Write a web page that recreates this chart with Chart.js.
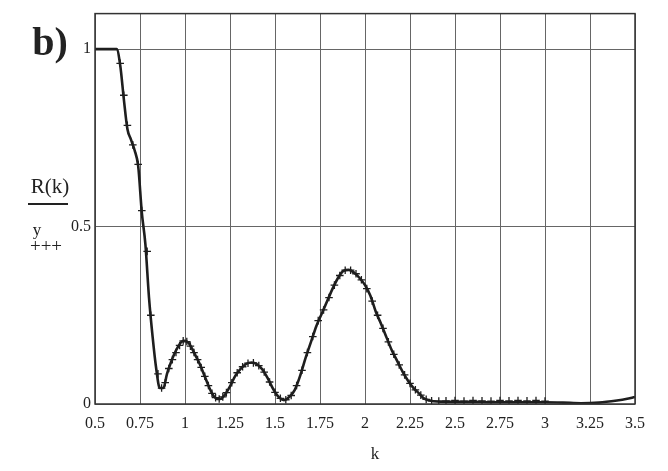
<!DOCTYPE html>
<html>
<head>
<meta charset="utf-8">
<script src="https://cdn.jsdelivr.net/npm/chart.js@4.4.1/dist/chart.umd.min.js"></script>
<style>
  html, body { margin: 0; padding: 0; background: #fff; }
  #myChart { display: block; }
</style>
</head>
<body>
<canvas id="myChart" width="668" height="471"></canvas>
<script>
// R(k) curve
const kLine = [0.5, 0.55, 0.6, 0.62, 0.64, 0.66, 0.68, 0.7, 0.72, 0.74, 0.76, 0.78, 0.8, 0.82, 0.84, 0.86, 0.88, 0.9, 0.92, 0.94, 0.96, 0.98, 1.0, 1.02, 1.04, 1.06, 1.08, 1.1, 1.12, 1.14, 1.16, 1.18, 1.2, 1.22, 1.25, 1.28, 1.31, 1.34, 1.37, 1.4, 1.43, 1.46, 1.49, 1.52, 1.55, 1.58, 1.61, 1.64, 1.67, 1.7, 1.73, 1.76, 1.79, 1.82, 1.85, 1.88, 1.91, 1.94, 1.97, 2.0, 2.03, 2.06, 2.09, 2.12, 2.15, 2.18, 2.21, 2.24, 2.27, 2.3, 2.33, 2.36, 2.4, 2.5, 2.6, 2.7, 2.8, 2.9, 3.0, 3.1, 3.2, 3.3, 3.4, 3.45, 3.5];
const rLine = [1, 1, 1, 1, 0.955, 0.86, 0.775, 0.745, 0.715, 0.67, 0.54, 0.45, 0.3, 0.19, 0.1, 0.045, 0.045, 0.085, 0.115, 0.14, 0.16, 0.175, 0.178, 0.172, 0.155, 0.135, 0.115, 0.09, 0.065, 0.04, 0.022, 0.014, 0.015, 0.025, 0.05, 0.08, 0.1, 0.113, 0.117, 0.112, 0.097, 0.072, 0.042, 0.02, 0.011, 0.02, 0.04, 0.08, 0.13, 0.175, 0.22, 0.255, 0.29, 0.325, 0.355, 0.375, 0.378, 0.37, 0.355, 0.335, 0.305, 0.26, 0.225, 0.187, 0.15, 0.12, 0.09, 0.065, 0.045, 0.03, 0.015, 0.01, 0.007, 0.006, 0.006, 0.005, 0.005, 0.005, 0.005, 0.004, 0.002, 0.004, 0.01, 0.014, 0.02];

// y data (+++)
const kCross = [0.64, 0.66, 0.68, 0.71, 0.74, 0.76, 0.79, 0.81, 0.85, 0.87, 0.89, 0.91, 0.93, 0.95, 0.97, 0.99, 1.01, 1.03, 1.05, 1.07, 1.09, 1.11, 1.13, 1.15, 1.17, 1.19, 1.21, 1.23, 1.26, 1.29, 1.32, 1.35, 1.38, 1.41, 1.44, 1.47, 1.5, 1.53, 1.56, 1.59, 1.62, 1.65, 1.68, 1.71, 1.74, 1.77, 1.8, 1.83, 1.86, 1.89, 1.92, 1.95, 1.98, 2.01, 2.04, 2.07, 2.1, 2.13, 2.16, 2.19, 2.22, 2.25, 2.28, 2.31, 2.34, 2.37, 2.41, 2.45, 2.5, 2.55, 2.6, 2.65, 2.7, 2.75, 2.8, 2.85, 2.9, 2.95, 3.0];
const yCross = [0.96, 0.87, 0.785, 0.73, 0.675, 0.545, 0.43, 0.25, 0.085, 0.045, 0.06, 0.1, 0.125, 0.145, 0.165, 0.178, 0.176, 0.163, 0.145, 0.125, 0.103, 0.078, 0.052, 0.03, 0.018, 0.014, 0.02, 0.032, 0.06, 0.088, 0.105, 0.115, 0.116, 0.108, 0.09, 0.062, 0.033, 0.016, 0.012, 0.024, 0.052, 0.095, 0.145, 0.19, 0.235, 0.265, 0.3, 0.335, 0.362, 0.377, 0.377, 0.367, 0.35, 0.325, 0.29, 0.25, 0.213, 0.175, 0.14, 0.11, 0.082, 0.058, 0.04, 0.025, 0.013, 0.009, 0.008, 0.009, 0.01, 0.008, 0.01, 0.009, 0.008, 0.01, 0.009, 0.01, 0.009, 0.01, 0.008];

const xTicks = [0.5, 0.75, 1, 1.25, 1.5, 1.75, 2, 2.25, 2.5, 2.75, 3, 3.25, 3.5];
const yTicks = [0, 0.5, 1];

const serif = "'Liberation Serif', 'DejaVu Serif', serif";

const labelsPlugin = {
    id: "labelsPlugin",
    afterDraw(chart) {
        const ctx = chart.ctx;
        const a = chart.chartArea;
        ctx.save();
        // frame
        ctx.strokeStyle = "#333";
        ctx.lineWidth = 1.5;
        ctx.strokeRect(a.left, a.top, a.right - a.left, a.bottom - a.top);
        ctx.fillStyle = "#222";
        ctx.textBaseline = "middle";
        ctx.textAlign = "center";
        ctx.font = "bold 40px " + serif;
        ctx.fillText("b)", 50, 45);
        ctx.font = "21px " + serif;
        ctx.fillText("R(k)", 50, 187);
        ctx.fillRect(28, 203, 40, 2);
        ctx.font = "17px " + serif;
        ctx.fillText("y", 37, 231);
        ctx.font = "19px " + serif;
        ctx.fillText("+++", 46, 247);
        ctx.font = "17px " + serif;
        ctx.fillText("k", 375, 455);
        ctx.restore();
    }
};

const chartDOM = document.querySelector("#myChart");
const myChart = new Chart(chartDOM, {
    type: "scatter",
    data: {
        datasets: [
            {
                label: "R(k)",
                data: kLine.map((k, i) => ({ x: k, y: rLine[i] })),
                showLine: true,
                borderColor: "#1e1e1e",
                borderWidth: 2.6,
                pointRadius: 0,
                cubicInterpolationMode: "monotone",
                order: 2
            },
            {
                label: "y",
                data: kCross.map((k, i) => ({ x: k, y: yCross[i] })),
                showLine: false,
                pointStyle: "cross",
                pointRadius: 3.8,
                borderColor: "#1e1e1e",
                borderWidth: 1.3,
                order: 1
            }
        ]
    },
    options: {
        responsive: false,
        animation: false,
        layout: { padding: { top: 8, right: 33, left: 0, bottom: 0 } },
        plugins: {
            legend: { display: false },
            tooltip: { enabled: false }
        },
        scales: {
            x: {
                type: "linear",
                min: 0.5,
                max: 3.5,
                afterBuildTicks: (scale) => { scale.ticks = xTicks.map(v => ({ value: v })); },
                afterFit: (scale) => { scale.height = 67; },
                grid: { color: "#666", lineWidth: 1, drawTicks: false },
                border: { display: false },
                ticks: {
                    padding: 10,
                    maxRotation: 0,
                    autoSkip: false,
                    color: "#222",
                    font: { family: serif, size: 16 },
                    callback: (v) => String(v)
                }
            },
            y: {
                type: "linear",
                min: 0,
                max: 1.1,
                afterBuildTicks: (scale) => { scale.ticks = yTicks.map(v => ({ value: v })); },
                afterFit: (scale) => { scale.width = 95; },
                grid: { color: "#666", lineWidth: 1, drawTicks: false },
                border: { display: false },
                ticks: {
                    padding: 4,
                    color: "#222",
                    font: { family: serif, size: 16 },
                    callback: (v) => String(v)
                }
            }
        }
    },
    plugins: [labelsPlugin]
});
</script>
</body>
</html>
